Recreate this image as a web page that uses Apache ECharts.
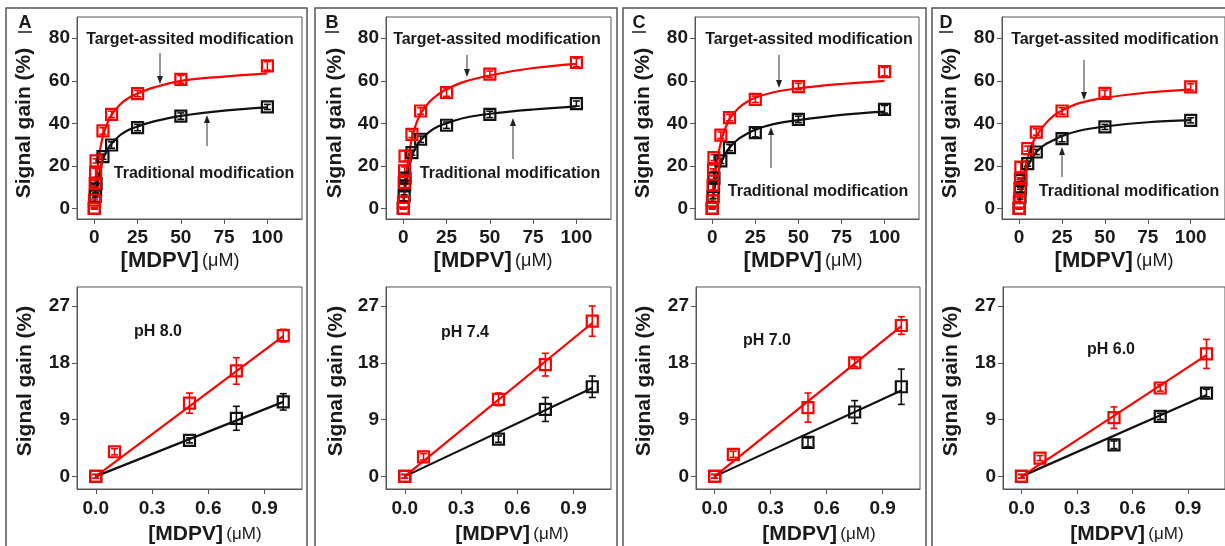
<!DOCTYPE html>
<html>
<head>
<meta charset="utf-8">
<script src="https://cdn.jsdelivr.net/npm/echarts@6/dist/echarts.min.js"></script>
<style>
  html, body { margin: 0; padding: 0; background: #fff; }
  #main { width: 1225px; height: 546px; }
</style>
</head>
<body>
<div id="main"></div>
<script>
// concentrations (uM)
const lowConc = [0, 0.1, 0.5, 0.75, 1.0];
const highConc = [5, 10, 25, 50, 100];
const fitConc = [0, 1, 2, 3, 5, 7.5, 10, 15, 20, 25, 35, 50, 75, 100];
const lineConc = [0, 1.0];

// tick labels
const topXTicks = [0, 25, 50, 75, 100];
const topYTicks = [0, 20, 40, 60, 80];
const botXTicks = [0, 0.3, 0.6, 0.9];
const botYTicks = [0, 9, 18, 27];

const panelLetters = ['A', 'B', 'C', 'D'];
const phLabels = ['pH 8.0', 'pH 7.4', 'pH 7.0', 'pH 6.0'];

// panel A
const redLowA = [0, 3.9, 11.6, 16.7, 22.3];
const redLowErrA = [0.3, 0.5, 1.6, 2.1, 1.0];
const blackLowA = [0, null, 5.7, 9.2, 11.8];
const blackLowErrA = [0.3, 0, 0.4, 1.9, 1.3];
const redHighA = [36.4, 44.2, 54.0, 60.7, 67.0];
const redHighErrA = [1.5, 1.5, 1.5, 1.8, 2.0];
const blackHighA = [24.3, 29.8, 38.0, 43.4, 47.7];
const blackHighErrA = [1.2, 1.5, 1.5, 1.5, 1.2];
const redFitA = [3, 12, 20, 26, 34, 40, 44, 49, 52, 54, 57, 60, 62, 63.5];
const blackFitA = [2, 8, 13, 17, 23, 27.5, 30.5, 34.5, 37, 38.5, 41, 43.5, 46, 47.5];
const redLineA = [0, 22.2];
const blackLineA = [0, 11.8];

// panel B
const redLowB = [0, 3.1, 12.2, 17.7, 24.6];
const redLowErrB = [0.3, 0.5, 1.0, 1.8, 2.4];
const blackLowB = [0, null, 5.9, 10.6, 14.2];
const blackLowErrB = [0.3, 0, 0.5, 1.9, 1.7];
const redHighB = [34.8, 45.8, 54.5, 63.1, 68.6];
const redHighErrB = [1.5, 1.5, 1.8, 1.5, 2.0];
const blackHighB = [26.2, 32.5, 39.1, 44.2, 49.3];
const blackHighErrB = [1.2, 1.5, 1.5, 1.5, 1.2];
const redFitB = [3, 11, 18, 24, 33, 40, 44.5, 50, 53.5, 56, 59.5, 62.5, 66, 68];
const blackFitB = [2, 9, 14, 18.5, 24.5, 29, 32, 36, 38.5, 40, 42.5, 44.5, 46.5, 48];
const redLineB = [0, 24.3];
const blackLineB = [0, 14.0];

// panel C
const redLowC = [0, 3.5, 10.9, 18.0, 23.9];
const redLowErrC = [0.3, 0.5, 2.3, 0.6, 1.4];
const blackLowC = [0, null, 5.4, 10.2, 14.2];
const blackLowErrC = [0.3, 0, 0.7, 1.8, 2.8];
const redHighC = [34.4, 42.7, 51.3, 57.3, 64.3];
const redHighErrC = [1.5, 1.5, 1.5, 1.5, 2.0];
const blackHighC = [22.3, 28.6, 35.6, 41.9, 46.6];
const blackHighErrC = [1.2, 1.5, 2.0, 1.5, 1.8];
const redFitC = [3, 11, 18, 23.5, 31, 37.5, 42, 47, 50, 52, 54.5, 56.5, 58.5, 60];
const blackFitC = [2, 7.5, 12, 15.5, 21, 25.5, 28.5, 32.5, 35, 37, 39.5, 41.5, 44, 45.5];
const redLineC = [0, 23.8];
const blackLineC = [0, 13.6];

// panel D
const redLowD = [0, 2.9, 9.3, 14.0, 19.4];
const redLowErrD = [0.3, 0.4, 1.7, 0.5, 2.3];
const blackLowD = [0, null, 5.0, 9.5, 13.2];
const blackLowErrD = [0.3, 0, 0.6, 0.5, 0.6];
const redHighD = [28.1, 35.9, 45.8, 54.1, 57.1];
const redHighErrD = [1.2, 1.5, 1.5, 1.5, 1.5];
const blackHighD = [21.0, 26.5, 32.8, 38.3, 41.4];
const blackHighErrD = [1.2, 1.2, 1.5, 1.2, 1.2];
const redFitD = [3, 8, 13, 17.5, 24, 30, 34, 39.5, 43.5, 46, 49.5, 52, 54.5, 56];
const blackFitD = [2, 7, 11, 14.5, 19.5, 23.5, 26.5, 30, 32, 34, 36.5, 38.5, 40.5, 41.5];
const redLineD = [0, 19.2];
const blackLineD = [0, 12.9];

const panels = [
  {redLow: redLowA, redLowErr: redLowErrA, blackLow: blackLowA, blackLowErr: blackLowErrA,
   redHigh: redHighA, redHighErr: redHighErrA, blackHigh: blackHighA, blackHighErr: blackHighErrA,
   redFit: redFitA, blackFit: blackFitA, redLine: redLineA, blackLine: blackLineA},
  {redLow: redLowB, redLowErr: redLowErrB, blackLow: blackLowB, blackLowErr: blackLowErrB,
   redHigh: redHighB, redHighErr: redHighErrB, blackHigh: blackHighB, blackHighErr: blackHighErrB,
   redFit: redFitB, blackFit: blackFitB, redLine: redLineB, blackLine: blackLineB},
  {redLow: redLowC, redLowErr: redLowErrC, blackLow: blackLowC, blackLowErr: blackLowErrC,
   redHigh: redHighC, redHighErr: redHighErrC, blackHigh: blackHighC, blackHighErr: blackHighErrC,
   redFit: redFitC, blackFit: blackFitC, redLine: redLineC, blackLine: blackLineC},
  {redLow: redLowD, redLowErr: redLowErrD, blackLow: blackLowD, blackLowErr: blackLowErrD,
   redHigh: redHighD, redHighErr: redHighErrD, blackHigh: blackHighD, blackHighErr: blackHighErrD,
   redFit: redFitD, blackFit: blackFitD, redLine: redLineD, blackLine: blackLineD}
];

const FONT = '"Liberation Sans", Arial, sans-serif';
const RED = '#ff0000';
const BLACK = '#111111';
const BOX = '#555555';

// layout (px)
const gridLeftTop = [77, 386, 695, 1002];
const gridLeftBot = [77, 386, 696, 1003];
const gridWidth = [225, 225, 224, 223];
const frameLeft = [6, 315, 623, 932];
const frameRight = [307, 617, 926, 1240];
const yTitleX = [24, 335, 643, 950];
const xTitleTopX = [180, 493, 803, 1114];
const xTitleBotX = [205, 512, 819, 1127];
const letterX = [25, 332, 639, 946];
const phPos = [[158, 332], [465, 333], [767, 341], [1111, 350]];
const targetText = [[190, 40], [497, 40], [809, 40], [1115, 40]];
const tradText = [[204, 174], [510, 174], [818, 192], [1129, 192]];
const targetArrow = [[160, 53, 84], [467, 55, 77], [779, 55, 88], [1084, 60, 100]];
const tradArrow = [[207, 146, 115], [513, 159, 118], [771, 168, 127], [1062, 177, 147]];

function pts(xs, ys) {
  const out = [];
  xs.forEach((x, i) => { if (ys[i] != null) out.push([x, ys[i]]); });
  return out;
}
function errPts(xs, ys, es) {
  const out = [];
  xs.forEach((x, i) => { if (ys[i] != null && es[i] > 0) out.push([x, ys[i], es[i]]); });
  return out;
}
function errorSeries(gi, data, color) {
  return {
    type: 'custom', xAxisIndex: gi, yAxisIndex: gi, z: 4, silent: true,
    data: data,
    renderItem: function (params, api) {
      const x = api.value(0), y = api.value(1), e = api.value(2);
      const t = api.coord([x, y + e]);
      const b = api.coord([x, y - e]);
      const st = {stroke: color, lineWidth: 1.6};
      return {type: 'group', children: [
        {type: 'line', shape: {x1: t[0], y1: t[1], x2: b[0], y2: b[1]}, style: st},
        {type: 'line', shape: {x1: t[0] - 3.5, y1: t[1], x2: t[0] + 3.5, y2: t[1]}, style: st},
        {type: 'line', shape: {x1: b[0] - 3.5, y1: b[1], x2: b[0] + 3.5, y2: b[1]}, style: st}
      ]};
    }
  };
}
function scatterSeries(gi, data, color) {
  return {
    type: 'scatter', xAxisIndex: gi, yAxisIndex: gi, z: 5, silent: true,
    symbol: 'rect', symbolSize: 11, data: data,
    itemStyle: {color: 'rgba(0,0,0,0)', borderColor: color, borderWidth: 2.2, opacity: 1}
  };
}
function lineSeries(gi, xs, ys, color, smooth) {
  return {
    type: 'line', xAxisIndex: gi, yAxisIndex: gi, z: 3, silent: true,
    data: xs.map((x, i) => [x, ys[i]]), showSymbol: false, symbol: 'none',
    smooth: smooth ? 0.35 : false,
    lineStyle: {color: color, width: 2.2}
  };
}

const labelStyle = {fontFamily: FONT, fontSize: 19, fontWeight: 'bold', color: '#1a1a1a'};

const grids = [], xAxes = [], yAxes = [], series = [];
panels.forEach((p, k) => {
  // top grid
  const gt = grids.length;
  grids.push({left: gridLeftTop[k], top: 17, width: gridWidth[k], height: 202,
    show: true, borderColor: BOX, borderWidth: 1, backgroundColor: 'transparent'});
  xAxes.push({type: 'value', gridIndex: gt, min: -10, max: 120,
    axisLine: {show: true, onZero: false, lineStyle: {color: BOX, width: 1}},
    axisTick: {show: true, length: 5, customValues: topXTicks, lineStyle: {color: BOX}},
    axisLabel: Object.assign({customValues: topXTicks, margin: 9}, labelStyle),
    splitLine: {show: false}});
  yAxes.push({type: 'value', gridIndex: gt, min: -5, max: 90,
    axisLine: {show: true, onZero: false, lineStyle: {color: BOX, width: 1}},
    axisTick: {show: true, length: 5, customValues: topYTicks, lineStyle: {color: BOX}},
    axisLabel: Object.assign({customValues: topYTicks, margin: 7}, labelStyle),
    splitLine: {show: false}});
  const topX = lowConc.concat(highConc);
  const redTop = p.redLow.concat(p.redHigh);
  const redTopErr = p.redLowErr.concat(p.redHighErr);
  const blackTop = p.blackLow.concat(p.blackHigh);
  const blackTopErr = p.blackLowErr.concat(p.blackHighErr);
  series.push(lineSeries(gt, fitConc, p.blackFit, BLACK, true));
  series.push(errorSeries(gt, errPts(topX, blackTop, blackTopErr), BLACK));
  series.push(scatterSeries(gt, pts(topX, blackTop), BLACK));
  series.push(lineSeries(gt, fitConc, p.redFit, RED, true));
  series.push(errorSeries(gt, errPts(topX, redTop, redTopErr), RED));
  series.push(scatterSeries(gt, pts(topX, redTop), RED));

  // bottom grid
  const gb = grids.length;
  grids.push({left: gridLeftBot[k], top: 287, width: gridWidth[k], height: 202,
    show: true, borderColor: BOX, borderWidth: 1, backgroundColor: 'transparent'});
  xAxes.push({type: 'value', gridIndex: gb, min: -0.1, max: 1.1,
    axisLine: {show: true, onZero: false, lineStyle: {color: BOX, width: 1}},
    axisTick: {show: true, length: 5, customValues: botXTicks, lineStyle: {color: BOX}},
    axisLabel: Object.assign({customValues: botXTicks, margin: 10,
      formatter: v => Number(v).toFixed(1)}, labelStyle),
    splitLine: {show: false}});
  yAxes.push({type: 'value', gridIndex: gb, min: -2, max: 30,
    axisLine: {show: true, onZero: false, lineStyle: {color: BOX, width: 1}},
    axisTick: {show: true, length: 5, customValues: botYTicks, lineStyle: {color: BOX}},
    axisLabel: Object.assign({customValues: botYTicks, margin: 7}, labelStyle),
    splitLine: {show: false}});
  series.push(lineSeries(gb, lineConc, p.blackLine, BLACK, false));
  series.push(errorSeries(gb, errPts(lowConc, p.blackLow, p.blackLowErr), BLACK));
  series.push(scatterSeries(gb, pts(lowConc, p.blackLow), BLACK));
  series.push(lineSeries(gb, lineConc, p.redLine, RED, false));
  series.push(errorSeries(gb, errPts(lowConc, p.redLow, p.redLowErr), RED));
  series.push(scatterSeries(gb, pts(lowConc, p.redLow), RED));
});

function txt(x, y, text, font, rot) {
  return {type: 'text', x: x, y: y, rotation: rot || 0, z: 10, silent: true,
    style: {text: text, font: font, fill: '#1a1a1a', textAlign: 'center', textVerticalAlign: 'middle',
      align: 'center', verticalAlign: 'middle'}};
}
function arrow(x, y1, y2) {
  const d = y2 > y1 ? 1 : -1;
  return [
    {type: 'line', z: 10, silent: true, shape: {x1: x, y1: y1, x2: x, y2: y2 - d * 6},
      style: {stroke: '#333', lineWidth: 1}},
    {type: 'polygon', z: 10, silent: true,
      shape: {points: [[x - 3, y2 - d * 8], [x + 3, y2 - d * 8], [x, y2]]}, style: {fill: '#222'}}
  ];
}
function mdpvTitle(x, y, size) {
  return {type: 'text', x: x, y: y, z: 10, silent: true,
    style: {text: '{b|[MDPV]} {n|(\u03bcM)}', fill: '#1a1a1a',
      textAlign: 'center', textVerticalAlign: 'middle', align: 'center', verticalAlign: 'middle',
      rich: {
        b: {font: 'bold ' + size + 'px ' + FONT, fill: '#1a1a1a'},
        n: {font: (size - 4) + 'px ' + FONT, fill: '#1a1a1a'}
      }}};
}

const graphics = [];
for (let k = 0; k < 4; k++) {
  graphics.push({type: 'rect', z: 1, silent: true,
    shape: {x: frameLeft[k], y: 8, width: frameRight[k] - frameLeft[k], height: 600},
    style: {fill: 'none', stroke: '#555', lineWidth: 1.5}});
  graphics.push(txt(letterX[k], 23, panelLetters[k], 'bold 18px ' + FONT));
  graphics.push({type: 'line', z: 10, silent: true,
    shape: {x1: letterX[k] - 7, y1: 32, x2: letterX[k] + 7, y2: 32},
    style: {stroke: '#1a1a1a', lineWidth: 1.5}});
  graphics.push(txt(yTitleX[k], 123, 'Signal gain (%)', 'bold 21px ' + FONT, Math.PI / 2));
  graphics.push(txt(yTitleX[k] + 1, 381, 'Signal gain (%)', 'bold 21px ' + FONT, Math.PI / 2));
  graphics.push(mdpvTitle(xTitleTopX[k], 261, 22));
  graphics.push(mdpvTitle(xTitleBotX[k], 534, 21));
  graphics.push(txt(targetText[k][0], targetText[k][1], 'Target-assited modification', 'bold 16px ' + FONT));
  graphics.push(txt(tradText[k][0], tradText[k][1], 'Traditional modification', 'bold 16px ' + FONT));
  graphics.push(txt(phPos[k][0], phPos[k][1], phLabels[k], 'bold 16px ' + FONT));
  arrow(targetArrow[k][0], targetArrow[k][1], targetArrow[k][2]).forEach(g => graphics.push(g));
  arrow(tradArrow[k][0], tradArrow[k][1], tradArrow[k][2]).forEach(g => graphics.push(g));
}

const chart = echarts.init(document.getElementById('main'), null, {renderer: 'canvas'});
chart.setOption({
  animation: false,
  backgroundColor: '#ffffff',
  grid: grids,
  xAxis: xAxes,
  yAxis: yAxes,
  series: series,
  graphic: graphics
});
</script>
</body>
</html>
